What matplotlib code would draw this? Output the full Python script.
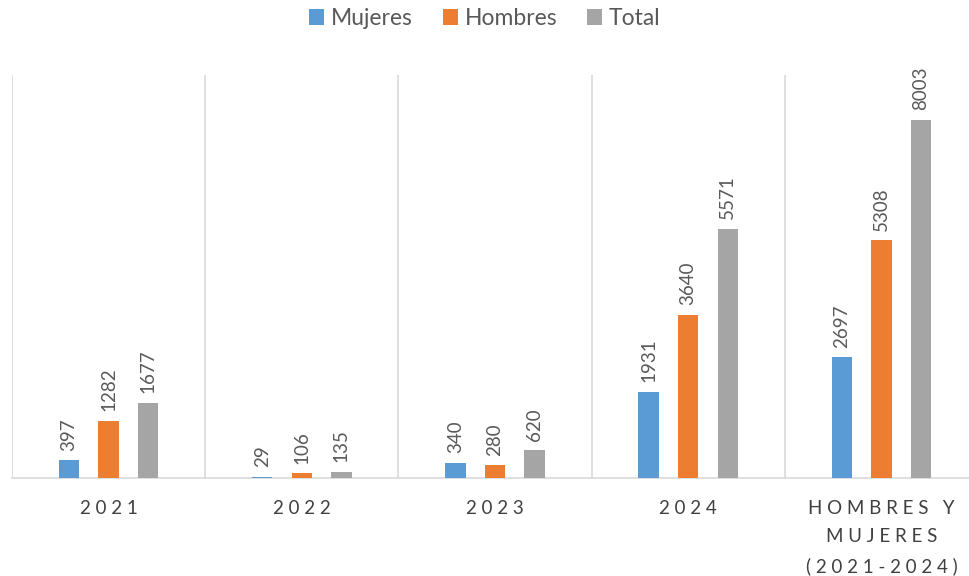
import matplotlib.pyplot as plt
import numpy as np

plt.rcParams['font.family'] = ['Lato', 'DejaVu Sans']

# datos
categorias = ['2021', '2022', '2023', '2024', 'HOMBRES Y\nMUJERES\n(2021-2024)']
mujeres = [397, 29, 340, 1931, 2697]
hombres = [1282, 106, 280, 3640, 5308]
total = [1677, 135, 620, 5571, 8003]

colores = ['#5b9bd5', '#ed7d31', '#a5a5a5']
series = [('Mujeres', mujeres), ('Hombres', hombres), ('Total', total)]


def espaciar(texto):
    # simula el espaciado de letras de Excel
    return '\n'.join(' '.join(linea) for linea in texto.split('\n'))


fig = plt.figure(figsize=(9.7, 5.76), dpi=100)
ax = fig.add_axes([12 / 970, 98 / 576, 966 / 970, 403 / 576])

x = np.arange(len(categorias))
ancho = 0.105
desp = 0.205

for i, (nombre, valores) in enumerate(series):
    pos = x + (i - 1) * desp
    barras = ax.bar(pos, valores, ancho, color=colores[i], label=nombre, zorder=3)
    for b, v in zip(barras, valores):
        ax.annotate(str(v), (b.get_x() + b.get_width() / 2, b.get_height()),
                    xytext=(0, 7), textcoords='offset points',
                    rotation=90, ha='center', va='bottom',
                    fontsize=13.5, color='#595959')

ax.set_xlim(-0.5, len(categorias) - 0.5)
ax.set_ylim(0, 9000)

# líneas verticales entre categorías
for b in np.arange(-0.5, len(categorias), 1):
    ax.axvline(b, color='#d9d9d9', linewidth=1.2, zorder=1)

ax.set_xticks(x)
ax.set_xticklabels([espaciar(c) for c in categorias], fontsize=13.5,
                   color='#404040', linespacing=1.8)
ax.tick_params(axis='x', length=0, pad=16)
ax.set_yticks([])

for lado in ['top', 'right', 'left']:
    ax.spines[lado].set_visible(False)
ax.spines['bottom'].set_color('#d9d9d9')
ax.spines['bottom'].set_linewidth(1.2)

fig.legend(loc='upper center', bbox_to_anchor=(0.5, 1.022), ncol=3,
           frameon=False, fontsize=16.5, handlelength=0.65, handleheight=0.65,
           handletextpad=0.3, columnspacing=1.3, labelcolor='#595959')

fig.savefig('out.png', dpi=100)
